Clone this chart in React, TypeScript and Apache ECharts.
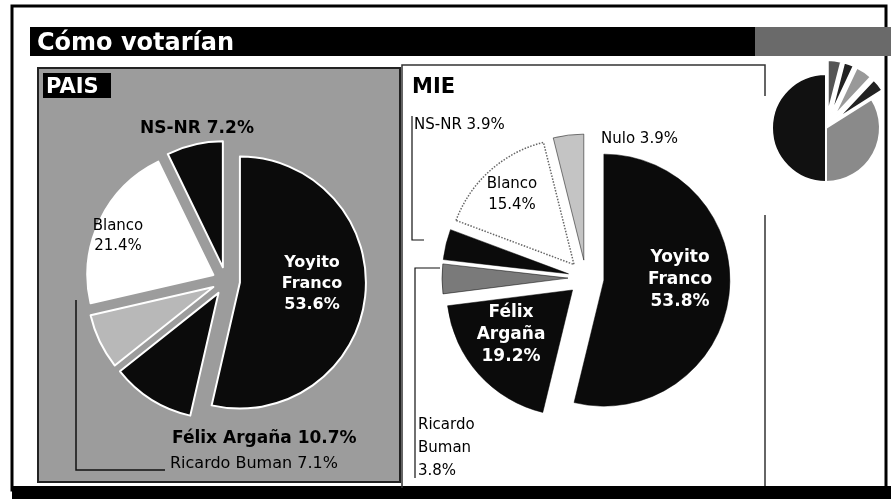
import React, { useEffect, useRef } from "react";
import * as echarts from "echarts";

// ---- data ----
const titleText = "Cómo votarían";
const paisTitle = "PAIS";
const mieTitle = "MIE";

const paisNames = ["Yoyito Franco", "Félix Argaña", "Ricardo Buman", "Blanco", "NS-NR"];
const paisValues = [53.6, 10.7, 7.1, 21.4, 7.2];

const mieNames = ["Yoyito Franco", "Félix Argaña", "Ricardo Buman", "NS-NR", "Blanco", "Nulo"];
const mieValues = [53.8, 19.2, 3.8, 3.9, 15.4, 3.9];

// third (cut-off) pie at the right edge, values estimated, no labels
const thirdValues = [4, 3, 5, 4, 34, 50];

// ---- styles ----
const FONT = "DejaVu Sans";
const paisColors = ["#0b0b0b", "#0b0b0b", "#b8b8b8", "#ffffff", "#0b0b0b"];
const paisLabelMode = ["stack", "line", "line", "stack", "line"];
const paisLabelPos: any[] = [
  { x: 312, y: 282, align: "center" },
  { x: 172, y: 437, align: "left" },
  { x: 170, y: 462, align: "left" },
  { x: 118, y: 235, align: "center" },
  { x: 140, y: 127, align: "left" },
];
const paisLabelStyle: any[] = [
  { fill: "#fff", weight: "bold", size: 16, lh: 21 },
  { fill: "#000", weight: "bold", size: 17, lh: 20 },
  { fill: "#000", weight: "normal", size: 16, lh: 20 },
  { fill: "#000", weight: "normal", size: 15, lh: 20 },
  { fill: "#000", weight: "bold", size: 17, lh: 20 },
];

const mieColors = ["#0b0b0b", "#0b0b0b", "#7a7a7a", "#0b0b0b", "#ffffff", "#c4c4c4"];
const mieLabelMode = ["stack", "stack", "stack", "line", "stack", "line"];
const mieLabelPos: any[] = [
  { x: 680, y: 278, align: "center" },
  { x: 511, y: 333, align: "center" },
  { x: 418, y: 447, align: "left" },
  { x: 414, y: 124, align: "left" },
  { x: 512, y: 193, align: "center" },
  { x: 601, y: 138, align: "left" },
];
const mieLabelStyle: any[] = [
  { fill: "#fff", weight: "bold", size: 17, lh: 22 },
  { fill: "#fff", weight: "bold", size: 17, lh: 22 },
  { fill: "#000", weight: "normal", size: 15, lh: 23 },
  { fill: "#000", weight: "normal", size: 15, lh: 20 },
  { fill: "#000", weight: "normal", size: 15, lh: 21 },
  { fill: "#000", weight: "normal", size: 15, lh: 20 },
];

const thirdColors = ["#555", "#222", "#999", "#222", "#8a8a8a", "#111"];

function fmt(name: string, value: number, mode: string) {
  const v = value.toFixed(1) + "%";
  if (mode === "stack") return name.split(" ").join("\n") + "\n" + v;
  return name + " " + v;
}

function labelTexts(names: string[], values: number[], modes: string[], pos: any[], st: any[]) {
  return names.map((n, i) => ({
    type: "text",
    z: 20,
    x: pos[i].x,
    y: pos[i].y,
    style: {
      text: fmt(n, values[i], modes[i]),
      fill: st[i].fill,
      fontFamily: FONT,
      fontSize: st[i].size,
      fontWeight: st[i].weight,
      lineHeight: st[i].lh,
      align: pos[i].align,
      verticalAlign: "middle",
    },
  }));
}

export default function App() {
  const ref = useRef<HTMLDivElement>(null);
  useEffect(() => {
    document.body.style.margin = "0";
    const chart = echarts.init(ref.current!, null, { renderer: "svg" });

    const paisData = paisNames.map((n, i) => ({
      name: n,
      value: paisValues[i],
      selected: true,
      itemStyle: { color: paisColors[i] },
    }));
    const mieData = mieNames.map((n, i) => ({
      name: n,
      value: mieValues[i],
      selected: true,
      itemStyle: {
        color: mieColors[i],
        borderColor: i === 4 ? "#666" : "#000",
        borderType: i === 4 ? "dotted" : "solid",
        borderWidth: i === 4 ? 1.5 : 0.5,
      },
    }));
    const thirdData = thirdValues.map((v, i) => ({
      value: v,
      selected: i < 4,
      itemStyle: { color: thirdColors[i] },
    }));

    chart.setOption({
      animation: false,
      graphic: [
        { type: "rect", z: -10, shape: { x: 12, y: 6, width: 874, height: 484 }, style: { fill: "#fff", stroke: "#000", lineWidth: 3 } },
        { type: "rect", z: -9, shape: { x: 12, y: 486, width: 879, height: 13 }, style: { fill: "#000" } },
        { type: "rect", z: -9, shape: { x: 30, y: 27, width: 725, height: 29 }, style: { fill: "#000" } },
        { type: "rect", z: -9, shape: { x: 755, y: 27, width: 136, height: 29 }, style: { fill: "#6a6a6a" } },
        { type: "text", z: 10, x: 37, y: 42, style: { text: titleText, fill: "#fff", font: `bold 24px "${FONT}"`, verticalAlign: "middle" } },
        { type: "rect", z: -8, shape: { x: 38, y: 68, width: 362, height: 414 }, style: { fill: "#9c9c9c", stroke: "#222", lineWidth: 2 } },
        { type: "rect", z: 5, shape: { x: 43, y: 73, width: 68, height: 25 }, style: { fill: "#000" } },
        { type: "text", z: 10, x: 46, y: 86, style: { text: paisTitle, fill: "#fff", font: `bold 21px "${FONT}"`, verticalAlign: "middle" } },
        { type: "text", z: 10, x: 412, y: 86, style: { text: mieTitle, fill: "#000", font: `bold 21px "${FONT}"`, verticalAlign: "middle" } },
        { type: "polyline", z: -7, shape: { points: [[765, 96], [765, 65], [402, 65], [402, 488]] }, style: { stroke: "#333", lineWidth: 1.5, fill: "none" } },
        { type: "line", z: -7, shape: { x1: 765, y1: 215, x2: 765, y2: 486 }, style: { stroke: "#333", lineWidth: 1.5 } },
        { type: "polyline", z: 3, shape: { points: [[76, 300], [76, 470], [165, 470]] }, style: { stroke: "#111", lineWidth: 1.5, fill: "none" } },
        { type: "polyline", z: 3, shape: { points: [[412, 116], [412, 240], [424, 240]] }, style: { stroke: "#111", lineWidth: 1.2, fill: "none" } },
        { type: "polyline", z: 3, shape: { points: [[440, 268], [415, 268], [415, 478]] }, style: { stroke: "#111", lineWidth: 1.2, fill: "none" } },
        ...labelTexts(paisNames, paisValues, paisLabelMode, paisLabelPos, paisLabelStyle),
        ...labelTexts(mieNames, mieValues, mieLabelMode, mieLabelPos, mieLabelStyle),
      ],
      series: [
        {
          type: "pie",
          center: [226, 281],
          radius: 126,
          startAngle: 90,
          clockwise: true,
          selectedMode: "multiple",
          selectedOffset: 14,
          itemStyle: { borderColor: "#fff", borderWidth: 2 },
          label: { show: false },
          labelLine: { show: false },
          emphasis: { disabled: true },
          data: paisData,
        },
        {
          type: "pie",
          center: [586, 278],
          radius: 126,
          startAngle: 90,
          clockwise: true,
          selectedMode: "multiple",
          selectedOffset: 18,
          label: { show: false },
          labelLine: { show: false },
          emphasis: { disabled: true },
          data: mieData,
        },
        {
          type: "pie",
          center: [826, 128],
          radius: 54,
          startAngle: 90,
          clockwise: true,
          selectedMode: "multiple",
          selectedOffset: 14,
          itemStyle: { borderColor: "#fff", borderWidth: 2 },
          label: { show: false },
          labelLine: { show: false },
          emphasis: { disabled: true },
          data: thirdData,
        },
      ],
    });
    return () => chart.dispose();
  }, []);
  return <div ref={ref} style={{ position: "fixed", left: 0, top: 0, width: 891, height: 499 }} />;
}
